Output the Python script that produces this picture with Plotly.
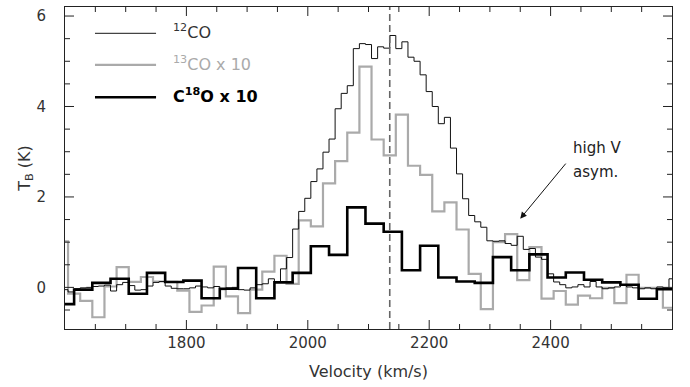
import plotly.graph_objects as go
import numpy as np

# ---------------- data ----------------
# 12CO: channel centres 1600..2600 step 10 km/s
co12_start, co12_width = 1600, 10
co12_T = [-0.05, -0.10, -0.03, -0.01, 0.00, 0.02, 0.03, 0.05, -0.08, 0.06,
          0.11, 0.04, -0.06, -0.05, 0.03, 0.11, 0.13, 0.03, -0.02, -0.03,
          -0.03, -0.01, 0.03, 0.01, -0.01, 0.02, -0.05, -0.01, 0.00, -0.05,
          -0.06, -0.01, 0.06, 0.08, 0.19, 0.12, 0.41, 0.66, 1.29, 1.68,
          1.97, 2.34, 2.62, 2.99, 3.28, 3.95, 4.29, 4.46, 5.28, 5.39,
          5.37, 5.06, 5.32, 5.29, 5.57, 5.28, 5.43, 5.09, 5.00, 4.70,
          4.33, 4.00, 3.62, 3.76, 3.08, 2.51, 1.96, 1.59, 1.45, 1.33,
          1.03, 1.02, 1.03, 0.97, 0.93, 1.13, 0.84, 0.86, 0.67, 0.62,
          0.30, 0.12, 0.06, -0.01, 0.01, 0.06, 0.01, 0.13, 0.01, -0.03,
          -0.01, 0.01, 0.06, 0.01, -0.01, -0.03, -0.01, -0.03, 0.01, -0.01,
          0.19]

# 13CO x 10: channel centres 1595..2595 step 20 km/s
co13_start, co13_width = 1595, 20
co13_T = [1.02, -0.14, -0.30, -0.66, 0.02, 0.45, 0.12, 0.23, 0.13, 0.12,
          -0.07, -0.54, -0.40, 0.46, -0.20, -0.57, -0.05, 0.35, 0.70, 0.08,
          1.48, 1.35, 2.30, 2.79, 3.42, 4.88, 3.27, 2.92, 3.82, 2.69,
          2.49, 1.68, 1.88, 1.28, 0.30, -0.48, 1.00, 1.18, 0.16, 0.89,
          -0.25, -0.08, -0.38, -0.18, -0.24, -0.01, -0.35, 0.28, -0.01, -0.01,
          -0.45]

# C18O x 10: channel centres 1600..2590 step 30 km/s
c18o_start, c18o_width = 1600, 30
c18o_T = [-0.37, -0.05, 0.10, 0.19, -0.14, 0.32, 0.12, 0.15, -0.24, -0.03,
          0.43, -0.24, 0.11, 0.32, 0.91, 0.72, 1.77, 1.41, 1.23, 0.38,
          0.92, 0.22, 0.13, 0.10, 0.67, 0.38, 0.73, 0.22, 0.33, 0.17,
          0.11, 0.06, -0.25, -0.04]

v_sys = 2135
x_range = [1600, 2600]
y_range = [-0.92, 6.2]
x_ticks = [1800, 2000, 2200, 2400]
y_ticks = [0, 2, 4, 6]
x_minor_step = 50
y_minor_step = 0.5

W, H = 690, 387
M = dict(l=65, r=18, t=7, b=58)


def steps(start, width, vals):
    centres = start + width * np.arange(len(vals))
    edges = list(centres - width / 2) + [centres[-1] + width / 2]
    ys = list(vals) + [vals[-1]]
    return edges, ys


fig = go.Figure()

ex, ey = steps(co13_start, co13_width, co13_T)
fig.add_trace(go.Scatter(x=ex, y=ey, mode="lines", line_shape="hv",
                         line=dict(color="#aaaaaa", width=2.2), name="13CO x 10",
                         showlegend=False, hoverinfo="skip"))
ex, ey = steps(co12_start, co12_width, co12_T)
fig.add_trace(go.Scatter(x=ex, y=ey, mode="lines", line_shape="hv",
                         line=dict(color="#111111", width=1), name="12CO",
                         showlegend=False))
ex, ey = steps(c18o_start, c18o_width, c18o_T)
fig.add_trace(go.Scatter(x=ex, y=ey, mode="lines", line_shape="hv",
                         line=dict(color="#000000", width=2.6), name="C18O x 10",
                         showlegend=False))

# systemic velocity dashed line
fig.add_shape(type="line", xref="x", yref="paper", x0=v_sys, x1=v_sys, y0=0, y1=1,
              line=dict(color="#666666", width=1.6, dash="7px,4px"))

# inside tick marks on all four sides, drawn as a line trace from the tick lists
px_x = (W - M["l"] - M["r"]) / (x_range[1] - x_range[0])   # px per km/s
px_y = (H - M["t"] - M["b"]) / (y_range[1] - y_range[0])   # px per K
tx, ty = [], []
for v in np.arange(x_range[0] + x_minor_step, x_range[1], x_minor_step):
    L = (9 if v in x_ticks else 5) / px_y
    tx += [v, v, None, v, v, None]
    ty += [y_range[0], y_range[0] + L, None, y_range[1], y_range[1] - L, None]
for v in np.arange(-0.5, y_range[1], y_minor_step):
    L = (9 if any(abs(v - t) < 1e-9 for t in y_ticks) else 5) / px_x
    tx += [x_range[0], x_range[0] + L, None, x_range[1], x_range[1] - L, None]
    ty += [v, v, None, v, v, None]
fig.add_trace(go.Scatter(x=tx, y=ty, mode="lines", line=dict(color="#222222", width=1),
                         showlegend=False, hoverinfo="skip", connectgaps=False))

# legend drawn as lines + text
leg = [("<sup>12</sup>CO", "#444444", "#333333", 1.2, 0.918),
       ("<sup>13</sup>CO x 10", "#aaaaaa", "#aaaaaa", 2.2, 0.820),
       ("<b>C<sup>18</sup>O x 10</b>", "#000000", "#000000", 2.6, 0.7196)]
for txt, col, tcol, w, yy in leg:
    fig.add_shape(type="line", xref="paper", yref="paper", x0=0.0494, x1=0.150,
                  y0=yy, y1=yy, line=dict(color=col, width=w))
    fig.add_annotation(xref="paper", yref="paper", x=0.174, y=yy + 0.006, text=txt,
                       showarrow=False, xanchor="left", yanchor="middle",
                       font=dict(family="DejaVu Sans", size=16, color=tcol))

# arrow + label
fig.add_annotation(x=2350, y=1.52, ax=2427, ay=2.77, axref="x", ayref="y",
                   xref="x", yref="y", showarrow=True, arrowhead=2, arrowsize=1.3,
                   arrowwidth=1, arrowcolor="#111111", text="")
fig.add_annotation(x=2476, y=3.09, xref="x", yref="y", text="high V",
                   showarrow=False, font=dict(family="DejaVu Sans", size=15,
                                              color="#222222"))
fig.add_annotation(x=2474, y=2.55, xref="x", yref="y", text="asym.",
                   showarrow=False, font=dict(family="DejaVu Sans", size=15,
                                              color="#222222"))

fig.update_xaxes(range=x_range, tickmode="array", tickvals=x_ticks,
                 ticks="", showline=True, linecolor="#222222", linewidth=1,
                 mirror=True, showgrid=False, zeroline=False,
                 title_text="Velocity (km/s)", title_standoff=14,
                 title_font=dict(size=16, color="#333333"))
fig.update_yaxes(range=y_range, tickmode="array", tickvals=y_ticks,
                 ticktext=[f"{v}\u2002\u2002" for v in y_ticks],
                 ticks="", showline=True, linecolor="#222222", linewidth=1,
                 mirror=True, showgrid=False, zeroline=False,
                 title_text="T<sub>B</sub> (K)", title_standoff=0,
                 title_font=dict(size=16, color="#333333"))

fig.update_layout(
    width=W, height=H,
    margin=M,
    plot_bgcolor="white", paper_bgcolor="white",
    font=dict(family="DejaVu Sans", size=15, color="#333333"),
)

fig.write_html("out.html")
